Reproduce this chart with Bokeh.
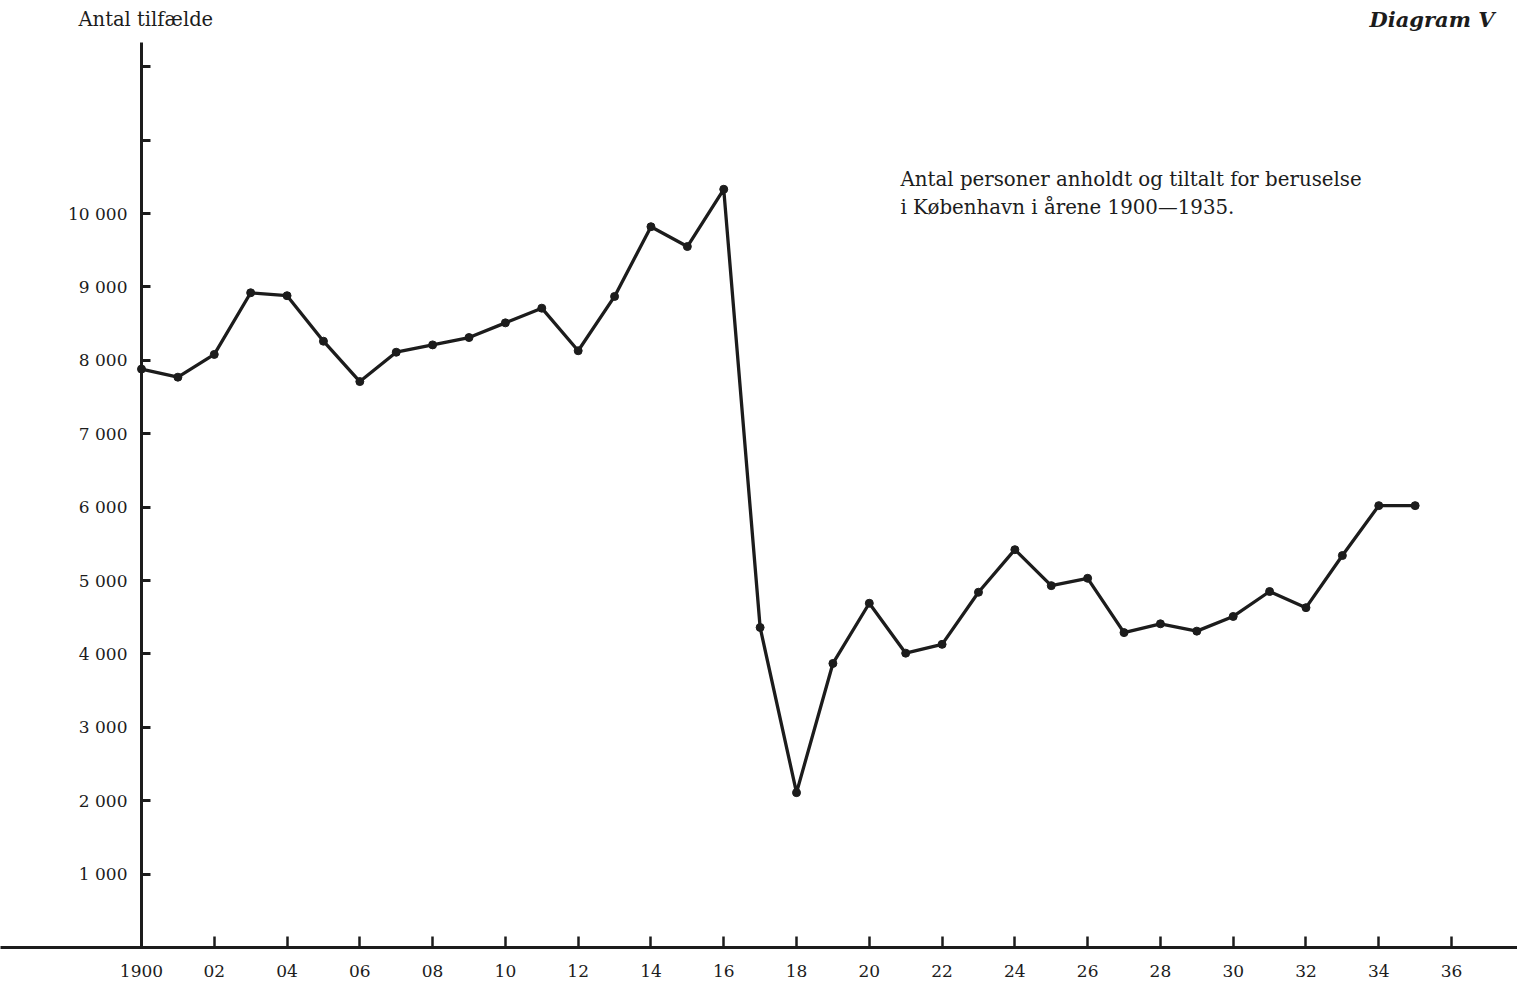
from bokeh.plotting import figure
from bokeh.models import LinearAxis, FixedTicker, Range1d, Label, ColumnDataSource
from bokeh.embed import file_html
from bokeh.resources import INLINE

years = list(range(1900, 1936))
cases = [7880, 7770, 8080, 8920, 8880, 8260, 7710, 8110, 8210, 8310,
         8510, 8710, 8130, 8870, 9820, 9550, 10330, 4360, 2110, 3870,
         4690, 4010, 4130, 4840, 5420, 4930, 5030, 4290, 4410, 4310,
         4510, 4850, 4630, 5340, 6020, 6020]

y_ticks = list(range(1000, 13000, 1000))
y_labels = {t: (f"{t // 1000} 000" if t <= 10000 else "") for t in y_ticks}
x_ticks = list(range(1900, 1937, 2))
x_labels = {t: ("1900" if t == 1900 else f"{t % 100:02d}") for t in x_ticks}

title_y = "Antal tilfælde"
diagram_name = "Diagram V"
caption1 = "Antal personer anholdt og tiltalt for beruselse"
caption2 = "i København i årene 1900—1935."

INK = "#1c1c1c"
FONT = "DejaVu Serif"

W, H = 1517, 987
BOTTOM = 40
px_per_year = 36.39
px_per_1000 = 73.4
frame_h = H - BOTTOM
x0 = 1900 - 141 / px_per_year
p = figure(width=W, height=H, output_backend="svg", toolbar_location=None,
           x_axis_type=None, y_axis_type=None,
           x_range=Range1d(x0, x0 + W / px_per_year),
           y_range=Range1d(0, frame_h / px_per_1000 * 1000),
           min_border_left=0, min_border_right=0, min_border_top=0,
           min_border_bottom=BOTTOM)
p.outline_line_color = None
p.xgrid.visible = False
p.ygrid.visible = False
p.background_fill_color = "white"
p.border_fill_color = "white"

yax = LinearAxis(fixed_location=1900, ticker=FixedTicker(ticks=y_ticks),
                 major_label_overrides=y_labels, bounds=(0, 12330))
yax.axis_line_width = 3
yax.axis_line_color = INK
yax.major_tick_in = 9
yax.major_tick_out = 0
yax.major_tick_line_width = 3
yax.major_tick_line_color = INK
yax.minor_tick_line_color = None
yax.major_label_standoff = 14
yax.major_label_text_font = FONT
yax.major_label_text_font_size = "17px"
yax.major_label_text_color = INK
p.add_layout(yax, "left")

xax = LinearAxis(ticker=FixedTicker(ticks=x_ticks), major_label_overrides=x_labels)
xax.axis_line_width = 3
xax.axis_line_color = INK
xax.major_tick_in = 11
xax.major_tick_out = 0
xax.major_tick_line_width = 2.5
xax.major_tick_line_color = INK
xax.minor_tick_line_color = None
xax.major_label_standoff = 17
xax.major_label_text_font = FONT
xax.major_label_text_font_size = "17px"
xax.major_label_text_color = INK
p.add_layout(xax, "below")

src = ColumnDataSource(dict(x=years, y=cases))
p.line("x", "y", source=src, line_width=3.3, line_color=INK)
p.scatter("x", "y", source=src, size=8, fill_color=INK, line_color=INK)

def scr_y(page_y):
    return frame_h - page_y

p.add_layout(Label(x=78, y=scr_y(30), x_units="screen", y_units="screen",
                   text=title_y, text_font=FONT, text_font_size="19.5px",
                   text_color=INK))
p.add_layout(Label(x=1494, y=scr_y(31), x_units="screen", y_units="screen",
                   text=diagram_name, text_font=FONT, text_font_size="21px",
                   text_font_style="bold italic", text_align="right",
                   text_color=INK))
p.add_layout(Label(x=900, y=scr_y(190), x_units="screen", y_units="screen",
                   text=caption1, text_font=FONT, text_font_size="19.8px",
                   text_color=INK))
p.add_layout(Label(x=900, y=scr_y(218), x_units="screen", y_units="screen",
                   text=caption2, text_font=FONT, text_font_size="19.8px",
                   text_color=INK))

open("out.html", "w").write(file_html(p, INLINE))
